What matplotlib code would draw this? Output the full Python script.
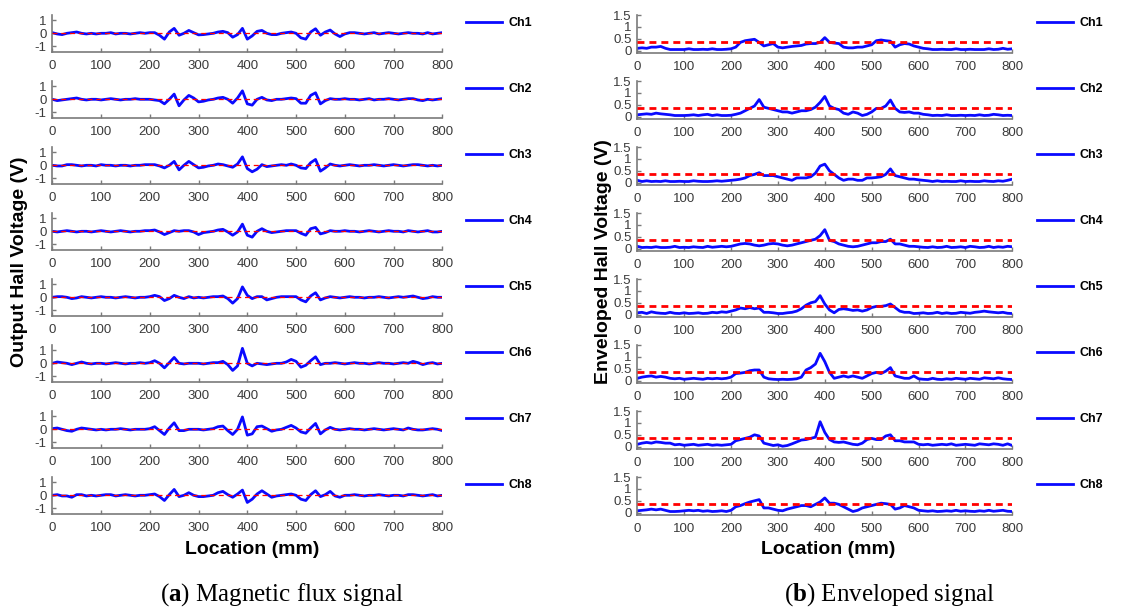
import matplotlib
matplotlib.use("Agg")
import matplotlib.pyplot as plt
from matplotlib.lines import Line2D

# ---------------- data ----------------
LOCATION = list(range(0, 801, 10))          # mm
CHANNELS = ["Ch1", "Ch2", "Ch3", "Ch4", "Ch5", "Ch6", "Ch7", "Ch8"]
X_TICKS = [0, 100, 200, 300, 400, 500, 600, 700, 800]
LEFT_Y_TICKS = [-1, 0, 1]
RIGHT_Y_TICKS = [0, 0.5, 1, 1.5]
RIGHT_Y_TICK_LABELS = ["0", "0.5", "1", "1.5"]
LEFT_THRESHOLD = 0.0
RIGHT_THRESHOLD = 0.35

flux_ch1 = [0.05, -0.05, -0.1, 0.0, 0.05, 0.1, 0.0, -0.05, 0.0, -0.05, 0.0, 0.0, 0.05, -0.05, 0.0, 0.0, -0.05, 0.0, 0.05, 0.0,
            0.05, 0.05, -0.15, -0.45, 0.1, 0.38, -0.15, 0.0, 0.22, 0.05,
            -0.12, -0.1, -0.05, 0.0, 0.1, 0.15, 0.05, -0.3, -0.1, 0.38,
            -0.45, -0.2, 0.15, 0.22, 0.0, -0.1, -0.1, 0.0, 0.05, 0.1,
            0.0, -0.35, -0.45, 0.1, 0.35, -0.15, 0.1, 0.25, -0.05, -0.25,
            -0.05, 0.05, 0.05, 0.0, -0.05, 0.0, 0.05, -0.05, 0.0, 0.05,
            0.0, -0.05, 0.0, 0.05, 0.0, 0.0, -0.05, 0.05, -0.05, 0.0, 0.05]
flux_ch2 = [0.0, -0.1, -0.05, 0.0, 0.05, 0.1, 0.0, -0.05, 0.0, 0.0, -0.05, 0.0, 0.05, 0.0, -0.05, 0.0, 0.0, 0.05, 0.0, 0.0,
            0.0, -0.05, -0.1, -0.35, 0.0, 0.4, -0.5, -0.05, 0.3, 0.1,
            -0.2, -0.15, -0.05, 0.0, 0.1, 0.15, 0.0, -0.3, 0.1, 0.65,
            -0.35, -0.45, 0.0, 0.15, -0.05, -0.1, 0.0, 0.0, 0.05, 0.1,
            0.05, -0.3, -0.3, 0.3, 0.5, -0.35, -0.1, 0.05, 0.0, 0.0,
            0.05, 0.0, 0.0, -0.05, 0.0, 0.05, -0.05, 0.0, 0.0, 0.05,
            0.0, -0.05, 0.0, 0.05, 0.05, -0.05, -0.1, 0.0, -0.05, 0.0, 0.05]
flux_ch3 = [0.0, -0.05, -0.05, 0.05, 0.05, 0.0, -0.05, 0.0, 0.0, -0.05, 0.05, 0.0, 0.0, -0.05, 0.0, 0.0, -0.05, 0.0, 0.0, 0.05,
            0.05, 0.05, -0.05, -0.2, 0.0, 0.3, -0.35, 0.0, 0.3, 0.05,
            -0.2, -0.15, -0.05, 0.0, 0.1, 0.05, -0.05, -0.15, 0.1, 0.65,
            -0.25, -0.5, -0.3, 0.05, -0.1, -0.05, 0.0, 0.05, 0.0, 0.1,
            0.0, -0.2, -0.25, 0.2, 0.45, -0.45, -0.2, 0.1, 0.0, -0.05,
            0.0, 0.05, 0.0, -0.05, 0.0, 0.0, 0.05, 0.0, -0.05, 0.0,
            0.05, 0.0, -0.05, 0.0, 0.05, 0.05, 0.0, -0.05, 0.0, -0.05, 0.0]
flux_ch4 = [0.0, -0.05, 0.0, 0.05, 0.0, -0.05, 0.0, 0.0, -0.05, 0.0, 0.05, 0.0, -0.05, 0.0, 0.05, 0.0, -0.05, 0.0, 0.0, 0.05,
            0.05, 0.1, -0.05, -0.25, -0.1, 0.05, 0.0, 0.05, 0.05, -0.05,
            -0.25, -0.1, -0.05, 0.0, 0.1, 0.15, -0.05, -0.3, -0.05, 0.55,
            -0.3, -0.45, 0.0, 0.2, 0.0, -0.1, -0.05, 0.0, 0.05, 0.05,
            0.05, -0.15, -0.3, 0.2, 0.3, -0.2, -0.1, 0.05, 0.0, 0.0,
            0.05, 0.0, 0.0, -0.05, 0.0, 0.05, 0.0, -0.05, 0.0, 0.05,
            0.0, 0.0, -0.05, 0.05, 0.0, -0.05, 0.0, 0.05, -0.05, -0.05, 0.0]
flux_ch5 = [0.0, 0.05, 0.05, 0.0, -0.1, -0.05, 0.05, 0.0, -0.05, 0.0, 0.05, 0.0, 0.0, -0.05, 0.0, 0.05, 0.0, -0.05, 0.0, 0.0,
            0.05, 0.15, 0.05, -0.25, -0.1, 0.15, 0.0, -0.1, 0.05, -0.05,
            0.0, -0.05, 0.0, 0.05, 0.05, 0.1, -0.1, -0.45, -0.1, 0.8,
            0.15, -0.1, 0.05, 0.05, -0.2, -0.1, 0.0, 0.05, 0.05, 0.05,
            0.05, -0.2, -0.35, 0.1, 0.35, -0.2, -0.05, 0.05, 0.0, -0.05,
            0.0, 0.05, 0.0, 0.0, -0.05, 0.0, 0.0, 0.05, 0.0, -0.05,
            0.0, 0.05, 0.0, 0.05, 0.1, 0.0, -0.1, -0.05, 0.05, 0.0, 0.0]
flux_ch6 = [0.0, 0.1, 0.05, 0.0, -0.1, 0.0, 0.1, 0.0, -0.05, 0.0, 0.0, -0.05, 0.0, 0.05, 0.0, -0.05, 0.0, 0.0, 0.05, 0.0,
            0.05, 0.2, 0.0, -0.35, 0.05, 0.45, 0.0, -0.05, 0.0, 0.0,
            0.0, -0.05, 0.0, 0.05, 0.05, 0.15, -0.1, -0.55, -0.2, 1.15,
            0.0, -0.2, 0.0, -0.05, -0.1, -0.05, 0.0, 0.0, 0.1, 0.3,
            0.15, -0.3, -0.15, 0.2, 0.5, -0.1, 0.0, 0.0, 0.05, 0.0,
            -0.05, 0.0, 0.05, 0.0, 0.0, -0.05, 0.0, 0.05, 0.0, 0.0,
            -0.05, 0.0, 0.05, 0.0, 0.15, 0.05, -0.1, 0.0, 0.05, -0.05, 0.0]
flux_ch7 = [0.05, 0.1, 0.0, -0.1, -0.15, 0.0, 0.1, 0.05, 0.0, -0.05, 0.0, -0.05, 0.0, 0.0, 0.05, 0.0, -0.05, 0.0, 0.0, 0.0,
            0.05, 0.2, -0.1, -0.4, 0.1, 0.5, -0.1, -0.1, 0.0, 0.0,
            0.0, -0.05, 0.0, 0.05, 0.2, 0.25, -0.1, -0.4, 0.0, 0.95,
            -0.45, -0.35, 0.2, 0.25, 0.05, -0.15, -0.05, 0.0, 0.15, 0.3,
            0.1, -0.2, -0.3, 0.1, 0.45, -0.35, -0.05, 0.15, 0.0, -0.05,
            0.0, 0.05, 0.0, 0.0, -0.05, 0.0, 0.05, 0.0, -0.05, 0.0,
            0.05, 0.0, -0.05, 0.1, 0.0, -0.05, -0.05, 0.0, 0.05, 0.0, -0.1]
flux_ch8 = [0.0, 0.05, -0.05, -0.05, -0.15, 0.05, 0.05, -0.05, 0.0, -0.05, 0.0, 0.05, 0.05, -0.05, 0.0, 0.05, 0.0, -0.05, 0.0, 0.0,
            0.05, 0.1, -0.1, -0.4, 0.05, 0.45, -0.1, 0.0, 0.2, 0.0,
            -0.1, -0.1, -0.05, 0.0, 0.2, 0.3, 0.05, -0.15, 0.1, 0.4,
            -0.55, -0.3, 0.1, 0.35, 0.1, -0.15, -0.05, 0.0, 0.05, 0.1,
            0.0, -0.3, -0.4, 0.05, 0.35, -0.1, 0.05, 0.3, -0.05, -0.15,
            0.0, 0.0, 0.05, 0.0, -0.05, 0.0, 0.0, 0.05, 0.0, -0.05,
            0.0, 0.0, -0.05, 0.05, 0.05, 0.0, -0.05, 0.0, 0.05, -0.05, 0.0]

env_ch1 = [0.1, 0.12, 0.1, 0.15, 0.15, 0.18, 0.1, 0.05, 0.05, 0.05, 0.05, 0.08, 0.05, 0.05, 0.06, 0.05, 0.08, 0.05, 0.05, 0.06,
           0.08, 0.15, 0.35, 0.42, 0.45, 0.48, 0.35, 0.2, 0.25, 0.3,
           0.15, 0.12, 0.15, 0.18, 0.2, 0.22, 0.28, 0.3, 0.3, 0.35,
           0.55, 0.35, 0.32, 0.3, 0.15, 0.12, 0.12, 0.15, 0.15, 0.2,
           0.25, 0.42, 0.45, 0.42, 0.4, 0.15, 0.25, 0.3, 0.28, 0.2,
           0.15, 0.1, 0.08, 0.05, 0.05, 0.06, 0.05, 0.05, 0.08, 0.05,
           0.05, 0.06, 0.05, 0.05, 0.05, 0.08, 0.05, 0.06, 0.1, 0.06, 0.08]
env_ch2 = [0.08, 0.1, 0.12, 0.1, 0.15, 0.12, 0.1, 0.08, 0.05, 0.05, 0.05, 0.06, 0.08, 0.05, 0.08, 0.1, 0.05, 0.08, 0.05, 0.05,
           0.06, 0.1, 0.15, 0.25, 0.35, 0.45, 0.72, 0.4, 0.35, 0.3,
           0.25, 0.2, 0.2, 0.15, 0.2, 0.25, 0.25, 0.3, 0.4, 0.6,
           0.85, 0.45, 0.35, 0.3, 0.15, 0.1, 0.2, 0.15, 0.05, 0.1,
           0.2, 0.35, 0.35, 0.45, 0.7, 0.35, 0.2, 0.18, 0.2, 0.15,
           0.15, 0.1, 0.08, 0.05, 0.06, 0.05, 0.08, 0.05, 0.05, 0.06,
           0.05, 0.06, 0.05, 0.08, 0.05, 0.06, 0.1, 0.08, 0.05, 0.06, 0.05]
env_ch3 = [0.1, 0.05, 0.08, 0.05, 0.06, 0.05, 0.08, 0.05, 0.05, 0.06, 0.05, 0.05, 0.08, 0.06, 0.05, 0.05, 0.06, 0.08, 0.06, 0.08,
           0.1, 0.12, 0.15, 0.2, 0.3, 0.35, 0.42, 0.3, 0.3, 0.3,
           0.25, 0.2, 0.15, 0.1, 0.2, 0.2, 0.2, 0.25, 0.4, 0.7,
           0.78, 0.5, 0.35, 0.2, 0.1, 0.15, 0.15, 0.1, 0.1, 0.2,
           0.2, 0.22, 0.25, 0.35, 0.58, 0.3, 0.25, 0.2, 0.15, 0.15,
           0.12, 0.1, 0.08, 0.05, 0.08, 0.05, 0.06, 0.05, 0.05, 0.08,
           0.05, 0.06, 0.05, 0.05, 0.08, 0.06, 0.05, 0.08, 0.06, 0.1, 0.15]
env_ch4 = [0.1, 0.05, 0.06, 0.05, 0.08, 0.05, 0.05, 0.06, 0.1, 0.05, 0.06, 0.05, 0.08, 0.06, 0.05, 0.1, 0.06, 0.08, 0.1, 0.08,
           0.1, 0.15, 0.2, 0.22, 0.2, 0.15, 0.12, 0.15, 0.2, 0.22,
           0.2, 0.15, 0.12, 0.15, 0.2, 0.25, 0.3, 0.35, 0.4, 0.55,
           0.8, 0.35, 0.3, 0.2, 0.15, 0.1, 0.08, 0.1, 0.15, 0.2,
           0.25, 0.25, 0.3, 0.3, 0.4, 0.2, 0.2, 0.15, 0.1, 0.1,
           0.08, 0.06, 0.05, 0.08, 0.05, 0.06, 0.1, 0.05, 0.06, 0.08,
           0.05, 0.1, 0.08, 0.05, 0.06, 0.1, 0.05, 0.08, 0.06, 0.1, 0.08]
env_ch5 = [0.08, 0.1, 0.05, 0.12, 0.08, 0.06, 0.05, 0.1, 0.06, 0.05, 0.08, 0.05, 0.06, 0.08, 0.05, 0.06, 0.1, 0.08, 0.12, 0.1,
           0.15, 0.2, 0.28, 0.25, 0.3, 0.25, 0.28, 0.1, 0.1, 0.08,
           0.05, 0.05, 0.08, 0.1, 0.15, 0.25, 0.4, 0.5, 0.55, 0.8,
           0.45, 0.2, 0.08, 0.22, 0.25, 0.22, 0.18, 0.2, 0.15, 0.2,
           0.3, 0.35, 0.35, 0.38, 0.45, 0.3, 0.15, 0.1, 0.1, 0.05,
           0.06, 0.08, 0.05, 0.06, 0.1, 0.05, 0.08, 0.05, 0.06, 0.1,
           0.08, 0.06, 0.1, 0.12, 0.15, 0.12, 0.1, 0.08, 0.1, 0.06, 0.05]
env_ch6 = [0.1, 0.15, 0.18, 0.2, 0.15, 0.18, 0.15, 0.1, 0.08, 0.1, 0.06, 0.08, 0.1, 0.08, 0.06, 0.1, 0.08, 0.1, 0.08, 0.1,
           0.15, 0.3, 0.32, 0.35, 0.42, 0.45, 0.45, 0.15, 0.08, 0.06,
           0.05, 0.06, 0.05, 0.06, 0.08, 0.15, 0.45, 0.55, 0.7, 1.15,
           0.8, 0.35, 0.1, 0.15, 0.2, 0.15, 0.2, 0.15, 0.1, 0.2,
           0.3, 0.35, 0.3, 0.4, 0.55, 0.2, 0.15, 0.1, 0.1, 0.2,
           0.08, 0.06, 0.05, 0.1, 0.06, 0.05, 0.08, 0.06, 0.1, 0.08,
           0.06, 0.1, 0.08, 0.06, 0.12, 0.1, 0.08, 0.12, 0.08, 0.06, 0.05]
env_ch7 = [0.1, 0.15, 0.18, 0.15, 0.2, 0.18, 0.15, 0.15, 0.08, 0.1, 0.06, 0.08, 0.1, 0.06, 0.08, 0.1, 0.06, 0.08, 0.06, 0.08,
           0.1, 0.25, 0.3, 0.35, 0.4, 0.5, 0.45, 0.15, 0.1, 0.05,
           0.08, 0.02, 0.05, 0.12, 0.2, 0.28, 0.3, 0.35, 0.4, 1.05,
           0.6, 0.3, 0.2, 0.18, 0.2, 0.15, 0.1, 0.08, 0.15, 0.3,
           0.35, 0.3, 0.3, 0.45, 0.5, 0.25, 0.25, 0.2, 0.2, 0.2,
           0.1, 0.08, 0.1, 0.06, 0.08, 0.1, 0.08, 0.12, 0.06, 0.08,
           0.1, 0.08, 0.06, 0.12, 0.1, 0.08, 0.12, 0.1, 0.06, 0.12, 0.05]
env_ch8 = [0.08, 0.1, 0.12, 0.15, 0.12, 0.15, 0.1, 0.05, 0.05, 0.06, 0.08, 0.1, 0.08, 0.1, 0.06, 0.08, 0.05, 0.06, 0.08, 0.05,
           0.1, 0.25, 0.3, 0.38, 0.45, 0.5, 0.55, 0.2, 0.2, 0.15,
           0.1, 0.08, 0.15, 0.2, 0.25, 0.3, 0.3, 0.25, 0.35, 0.45,
           0.62, 0.4, 0.4, 0.35, 0.25, 0.15, 0.05, 0.1, 0.2, 0.25,
           0.3, 0.35, 0.4, 0.38, 0.35, 0.15, 0.2, 0.3, 0.25, 0.2,
           0.1, 0.08, 0.06, 0.08, 0.05, 0.06, 0.08, 0.06, 0.1, 0.06,
           0.08, 0.06, 0.05, 0.08, 0.06, 0.1, 0.06, 0.08, 0.1, 0.06, 0.05]

FLUX = [flux_ch1, flux_ch2, flux_ch3, flux_ch4, flux_ch5, flux_ch6, flux_ch7, flux_ch8]
ENVELOPE = [env_ch1, env_ch2, env_ch3, env_ch4, env_ch5, env_ch6, env_ch7, env_ch8]

# ---------------- style ----------------
plt.rcParams['axes.unicode_minus'] = False
plt.rcParams['mathtext.fontset'] = 'custom'
plt.rcParams['mathtext.rm'] = 'Liberation Serif'
plt.rcParams['mathtext.bf'] = 'Liberation Serif:bold'

W, H = 1131, 613
fig = plt.figure(figsize=(W / 100, H / 100), dpi=100)
fig.patch.set_facecolor('white')

BLUE = '#0a0aff'
AXIS_GRAY = '#7a7a7a'
TICK_FONT = 'Liberation Sans'
LABEL_FONT = 'Liberation Sans'


def add_axes_px(x0, x1, ytop, ybot):
    return fig.add_axes([x0 / W, 1 - ybot / H, (x1 - x0) / W, (ybot - ytop) / H])


def style_axes(ax):
    for s in ('top', 'right'):
        ax.spines[s].set_visible(False)
    for s in ('left', 'bottom'):
        ax.spines[s].set_color(AXIS_GRAY)
        ax.spines[s].set_linewidth(1.2)
    ax.tick_params(direction='in', length=3, width=1, color=AXIS_GRAY,
                   labelcolor='#3a3a3a', labelsize=9.5)
    ax.tick_params(axis='x', pad=6)
    ax.tick_params(axis='y', pad=4)
    for lab in ax.get_xticklabels() + ax.get_yticklabels():
        lab.set_fontfamily(TICK_FONT)
    ax.set_facecolor('none')


ROW_STEP = 66.0
# left panel geometry (pixels)
L_X0, L_X1 = 52.3, 442.3
L_ZERO0 = 33.3
L_PPU = 13.0
L_YLIM = (-1.45, 1.4)
# right panel geometry (pixels)
R_X0, R_X1 = 637.3, 1012.3
R_ZERO0 = 50.7
R_PPU = 23.8
R_YLIM = (-0.1, 1.5)

for i, ch in enumerate(CHANNELS):
    # ---- left: magnetic flux ----
    z = L_ZERO0 + ROW_STEP * i
    ax = add_axes_px(L_X0, L_X1, z - L_YLIM[1] * L_PPU, z - L_YLIM[0] * L_PPU)
    ax.plot(LOCATION, FLUX[i], color=BLUE, lw=2.0, solid_joinstyle='round', zorder=2)
    ax.axhline(LEFT_THRESHOLD, color='red', lw=0.9, ls=(0, (4, 3)), zorder=3)
    ax.set_xlim(X_TICKS[0], X_TICKS[-1])
    ax.set_ylim(*L_YLIM)
    ax.set_xticks(X_TICKS)
    ax.set_yticks(LEFT_Y_TICKS)
    ax.set_yticklabels([str(t) for t in LEFT_Y_TICKS])
    style_axes(ax)
    ax.legend([Line2D([0], [0], color=BLUE, lw=2)], [ch], loc='center left',
              bbox_to_anchor=(466 / W, 1 - (23 + ROW_STEP * i) / H),
              bbox_transform=fig.transFigure, frameon=False,
              handlelength=2.9, handletextpad=0.5, borderpad=0, borderaxespad=0,
              prop={'family': TICK_FONT, 'weight': 'bold', 'size': 9})

    # ---- right: enveloped ----
    z = R_ZERO0 + ROW_STEP * i
    ax = add_axes_px(R_X0, R_X1, z - R_YLIM[1] * R_PPU, z - R_YLIM[0] * R_PPU)
    ax.plot(LOCATION, ENVELOPE[i], color=BLUE, lw=2.0, solid_joinstyle='round', zorder=2)
    ax.axhline(RIGHT_THRESHOLD, color='red', lw=2.0, ls=(0, (2.5, 1.8)), zorder=3)
    ax.set_xlim(X_TICKS[0], X_TICKS[-1])
    ax.set_ylim(*R_YLIM)
    ax.set_xticks(X_TICKS)
    ax.set_yticks(RIGHT_Y_TICKS)
    ax.set_yticklabels(RIGHT_Y_TICK_LABELS)
    style_axes(ax)
    ax.legend([Line2D([0], [0], color=BLUE, lw=2)], [ch], loc='center left',
              bbox_to_anchor=(1037 / W, 1 - (23 + ROW_STEP * i) / H),
              bbox_transform=fig.transFigure, frameon=False,
              handlelength=2.9, handletextpad=0.5, borderpad=0, borderaxespad=0,
              prop={'family': TICK_FONT, 'weight': 'bold', 'size': 9})

# axis titles
fig.text(20 / W, 1 - 262 / H, 'Output Hall Voltage (V)', rotation=90, ha='center', va='center',
         fontsize=14, fontweight='bold', family=LABEL_FONT)
fig.text(603 / W, 1 - 262 / H, 'Enveloped Hall Voltage (V)', rotation=90, ha='center', va='center',
         fontsize=14, fontweight='bold', family=LABEL_FONT)
fig.text(252 / W, 1 - 549 / H, 'Location (mm)', ha='center', va='center',
         fontsize=14, fontweight='bold', family=LABEL_FONT)
fig.text(828 / W, 1 - 549 / H, 'Location (mm)', ha='center', va='center',
         fontsize=14, fontweight='bold', family=LABEL_FONT)

# captions
fig.text(282 / W, 1 - 595 / H, r'($\mathbf{a}$) Magnetic flux signal', ha='center', va='center',
         fontsize=18, family='Liberation Serif')
fig.text(890 / W, 1 - 595 / H, r'($\mathbf{b}$) Enveloped signal', ha='center', va='center',
         fontsize=18, family='Liberation Serif')

fig.savefig('out.png', dpi=100, facecolor='white')
